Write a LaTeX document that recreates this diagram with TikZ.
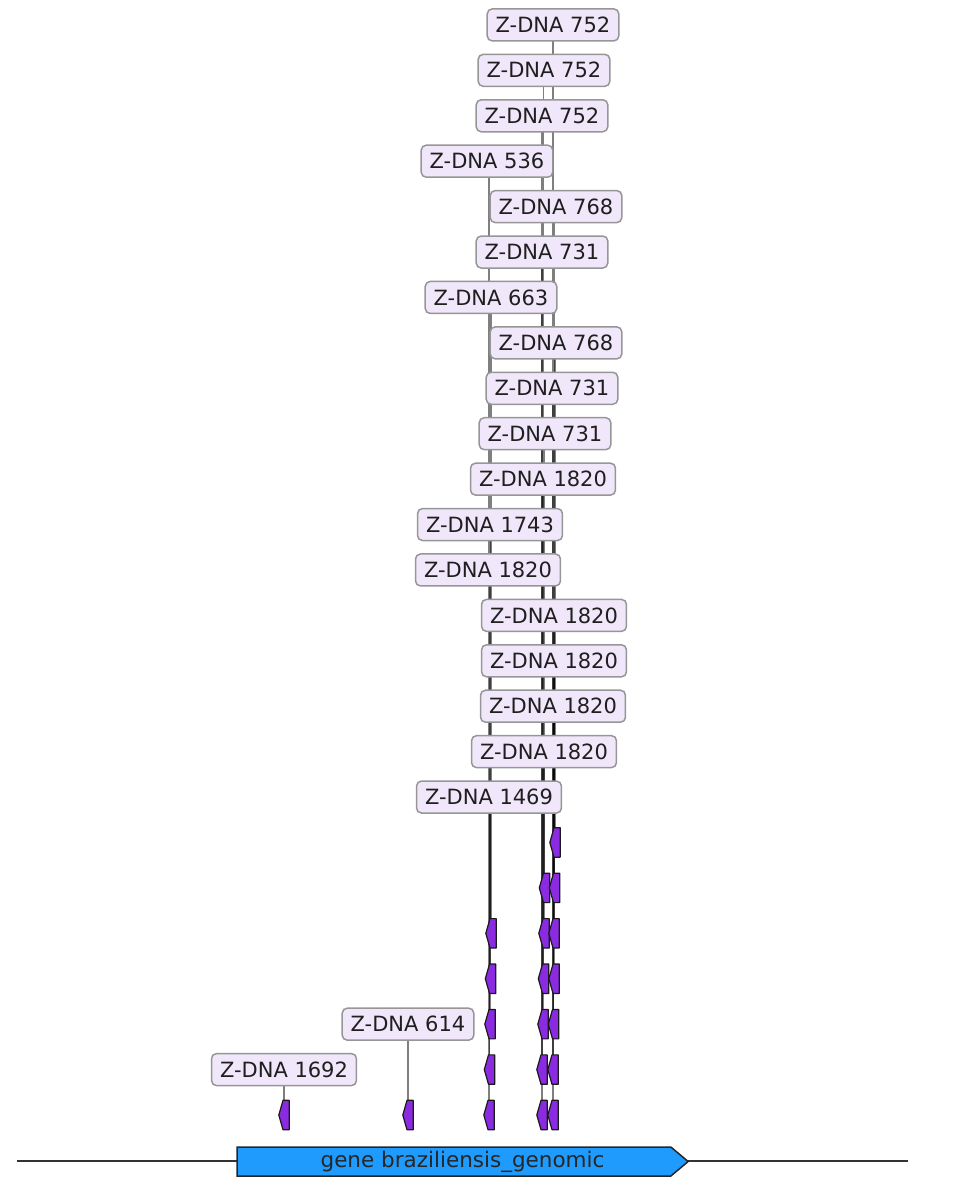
\documentclass[tikz,border=0pt]{standalone}
\usepackage{fontspec}
\setmainfont{DejaVu Sans}
\usepackage{tikz}
\usetikzlibrary{shapes.symbols}
\usetikzlibrary{positioning}
\usepackage{xcolor}
\definecolor{labelfill}{RGB}{241,231,250}
\definecolor{labeledge}{RGB}{150,150,150}
\definecolor{zdna}{RGB}{138,43,226}
\definecolor{genefill}{RGB}{31,155,254}
\pgfdeclarelayer{bg}
\pgfsetlayers{bg,main}
\tikzset{
  zlabel/.style={draw=labeledge, fill=labelfill, line width=1.5pt, rounded corners=5pt,
    inner xsep=8.5pt, inner ysep=0pt, minimum height=32pt, text=black!88,
    font=\fontsize{21}{25}\selectfont},
  zspot/.style={shape=rectangle, inner sep=0pt, minimum width=10pt, minimum height=29pt},
  zfeat/.style={draw=black!90, line width=1.2pt, fill=zdna, line join=round},
  genebox/.style={shape=signal, signal to=east, signal pointer angle=80, draw=black!85,
    line width=1.5pt, fill=genefill, inner sep=0pt, minimum width=451pt, minimum height=29pt},
  genename/.style={font=\fontsize{21.5}{25}\selectfont, text=black!85, inner sep=0pt},
  leader/.style={draw=black, opacity=0.5, line width=1.3pt},
}

\begin{document}
\begin{tikzpicture}[x=1pt, y=-1pt]
  \useasboundingbox (0,0) rectangle (970,1190);
  % sequence line and gene
  \coordinate (seqstart) at (17,1161);
  \coordinate (seqend) at (908,1161);
  \draw[black!80, line width=2.5pt] (seqstart) -- (seqend);
  \node[genebox] (gene) at (454,1161.5) {};
  \node[genename] (genetext) at (462.5,1161.5) {gene braziliensis\_genomic};
  % labels
  \foreach \lab/\txt/\x/\lev in {za/752/553/24, zb/752/544/23, zc/752/542/22,
      zd/536/487/21, ze/768/556/20, zf/731/542/19, zg/663/491/18, zh/768/556/17,
      zi/731/552/16, zj/731/545/15, zk/1820/543/14, zl/1743/490/13, zm/1820/488/12,
      zn/1820/554/11, zo/1820/554/10, zp/1820/553/9, zq/1820/544/8, zr/1469/489/7,
      zs/614/408/2, zt/1692/284/1}
    \node[zlabel] (\lab) at (\x,{1115-45.42*\lev}) {Z-DNA \txt};
  % features (arrows pointing left)
  \foreach \lab/\x/\lev in {zd/489/0, zm/489.5/1, zr/490/2, zl/490.5/3, zg/491/4,
      zc/542/0, zf/542/1, zk/543/2, zb/543.5/3, zq/544/4, zj/544.5/5,
      zi/553/0, za/553/1, zp/553.5/2, zn/554/3, zo/554/4, ze/554.5/5, zh/555/6,
      zs/408/0, zt/284/0}
  {
    \node[zspot] (f\lab) at (\x,{1115-45.42*\lev}) {};
    \draw[zfeat] (f\lab.north east) -- ([xshift=-1pt]f\lab.north) -- (f\lab.west)
      -- ([xshift=-1pt]f\lab.south) -- (f\lab.south east) -- cycle;
  }
  \begin{pgfonlayer}{bg}
    \foreach \lab in {za,zb,zc,zd,ze,zf,zg,zh,zi,zj,zk,zl,zm,zn,zo,zp,zq,zr,zs,zt}
      \draw[leader] (f\lab.north) -- (f\lab.north |- \lab.center);
  \end{pgfonlayer}
\end{tikzpicture}
\end{document}
